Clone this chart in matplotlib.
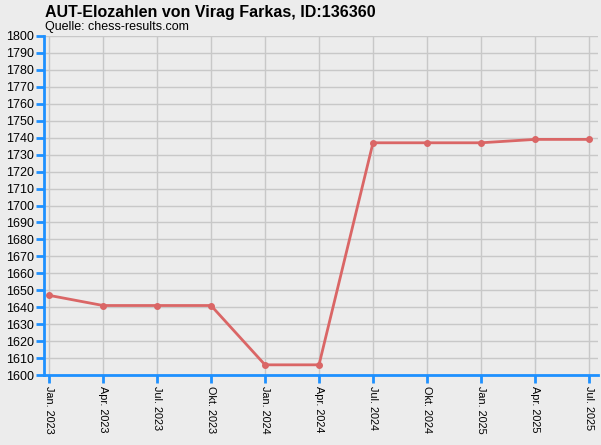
import matplotlib
matplotlib.use('Agg')
import matplotlib.pyplot as plt
import numpy as np

plt.rcParams['font.family'] = ['Liberation Sans', 'DejaVu Sans']

# Daten
monate = ['Jan. 2023', 'Apr. 2023', 'Jul. 2023', 'Okt. 2023', 'Jan. 2024', 'Apr. 2024',
          'Jul. 2024', 'Okt. 2024', 'Jan. 2025', 'Apr. 2025', 'Jul. 2025']
elo = [1647, 1641, 1641, 1641, 1606, 1606, 1737, 1737, 1737, 1739, 1739]

bg = '#ECECEC'
blau = '#1E90FF'
rot = '#DA6666'

fig = plt.figure(figsize=(6.01, 4.45), dpi=100, facecolor=bg)
ax = fig.add_axes([44/601, 70/445, 554/601, 339/445])
ax.set_facecolor(bg)

x = np.arange(len(monate))
ax.plot(x, elo, color=rot, linewidth=2, marker='o', markersize=4,
        markerfacecolor=rot, markeredgecolor=rot, zorder=3)

ax.set_xlim(-5/54, 10 + 9/54)
ax.set_ylim(1600, 1800)
ax.set_yticks(np.arange(1600, 1801, 10))
ax.set_xticks(x)
ax.set_xticklabels(monate, rotation=-90, fontsize=7.8)
ax.tick_params(axis='y', labelsize=9, length=6, width=2, color=blau, pad=1)
ax.tick_params(axis='x', length=6, width=2, color=blau, pad=2)

ax.grid(True, color='#C8C8C8', linewidth=1)
ax.set_axisbelow(True)
for s in ['top', 'right']:
    ax.spines[s].set_visible(False)
for s in ['left', 'bottom']:
    ax.spines[s].set_color(blau)
    ax.spines[s].set_linewidth(2)

fig.text(45/601, 1 - 12/445, 'AUT-Elozahlen von Virag Farkas, ID:136360',
         fontsize=11.5, fontweight='bold', va='center', ha='left')
fig.text(45/601, 1 - 27/445, 'Quelle: chess-results.com',
         fontsize=9, va='center', ha='left')

fig.savefig('out.png', dpi=100, facecolor=bg)
